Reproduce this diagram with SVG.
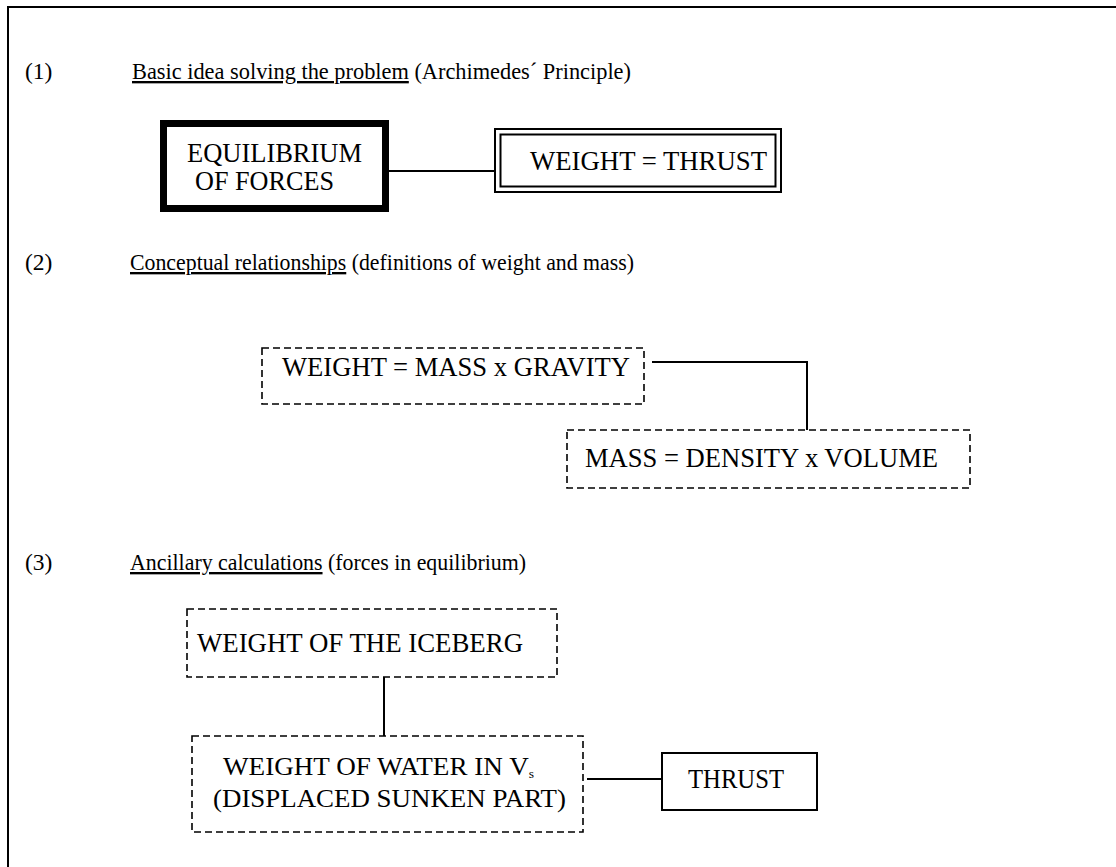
<svg xmlns="http://www.w3.org/2000/svg" width="1116" height="867" viewBox="0 0 1116 867">
<style>
text{font-family:'Liberation Serif','Times New Roman',serif;fill:#000}
.t{font-size:23.5px}
.b{font-size:27.5px}
.w{font-size:26px}
.u{text-decoration:underline}
.dash{fill:#fff;stroke:#000;stroke-width:1.6;stroke-dasharray:7 4}
.solid{fill:#fff;stroke:#000;stroke-width:2}
.conn{fill:none;stroke:#000;stroke-width:2}
</style>
<rect width="1116" height="867" fill="#fff"/>
<g id="frame">
<path d="M8 867 V7 H1116" fill="none" stroke="#000" stroke-width="2"/>
</g>
<g id="headings">
<text class="t" x="25" y="79">(1)</text>
<text class="t" x="132" y="79" textLength="499" lengthAdjust="spacingAndGlyphs"><tspan class="u">Basic idea solving the problem</tspan> (Archimedes´ Principle)</text>
<text class="t" x="25" y="270">(2)</text>
<text class="t" x="130" y="270" textLength="504" lengthAdjust="spacingAndGlyphs"><tspan class="u">Conceptual relationships</tspan> (definitions of weight and mass)</text>
<text class="t" x="25" y="570">(3)</text>
<text class="t" x="130" y="570" textLength="396" lengthAdjust="spacingAndGlyphs"><tspan class="u">Ancillary calculations</tspan> (forces in equilibrium)</text>
</g>
<g id="connectors">
<path class="conn" d="M389 171 H495"/>
<path class="conn" d="M652 362 H807 V430"/>
<path class="conn" d="M384 677 V736"/>
<path class="conn" d="M587 779 H662"/>
</g>
<g id="equilibrium">
<rect x="163.5" y="123.5" width="222" height="85" fill="#fff" stroke="#000" stroke-width="7"/>
<text class="b" x="187" y="162" textLength="175" lengthAdjust="spacingAndGlyphs">EQUILIBRIUM</text>
<text class="b" x="195" y="190" textLength="139" lengthAdjust="spacingAndGlyphs">OF FORCES</text>
</g>
<g id="weight-thrust">
<rect x="495" y="129" width="286" height="63" fill="#fff" stroke="#000" stroke-width="2"/>
<rect x="500.5" y="134.5" width="275" height="52" fill="none" stroke="#000" stroke-width="2"/>
<text class="b" x="530" y="170" textLength="237" lengthAdjust="spacingAndGlyphs">WEIGHT = THRUST</text>
</g>
<g id="weight-def">
<rect class="dash" x="262" y="348" width="382" height="56"/>
<text class="b" x="282" y="376" textLength="348" lengthAdjust="spacingAndGlyphs">WEIGHT = MASS x GRAVITY</text>
</g>
<g id="mass-def">
<rect class="dash" x="567" y="430" width="403" height="58"/>
<text class="b" x="585" y="467" textLength="353" lengthAdjust="spacingAndGlyphs">MASS = DENSITY x VOLUME</text>
</g>
<g id="iceberg">
<rect class="dash" x="187" y="609" width="370" height="68"/>
<text class="b" x="197" y="652" textLength="326" lengthAdjust="spacingAndGlyphs">WEIGHT OF THE ICEBERG</text>
</g>
<g id="water">
<rect class="dash" x="192" y="736" width="391" height="96"/>
<text class="w" x="223" y="775" textLength="311" lengthAdjust="spacingAndGlyphs">WEIGHT OF WATER IN V<tspan font-size="13" dy="3">s</tspan></text>
<text class="w" x="213" y="807" textLength="353" lengthAdjust="spacingAndGlyphs">(DISPLACED SUNKEN PART)</text>
</g>
<g id="thrust">
<rect class="solid" x="662" y="753" width="155" height="57"/>
<text class="b" x="688" y="788" textLength="96" lengthAdjust="spacingAndGlyphs">THRUST</text>
</g>
</svg>
